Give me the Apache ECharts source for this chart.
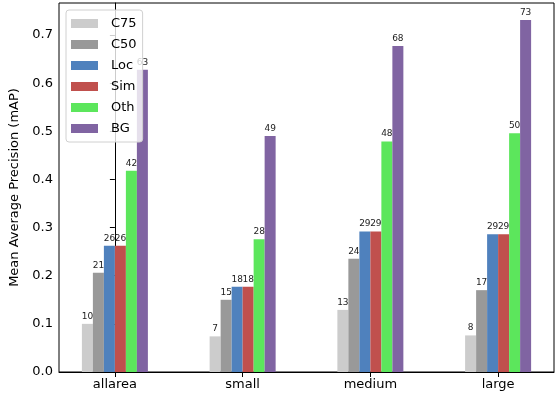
<!DOCTYPE html>
<html><head><meta charset="utf-8">
<script src="https://cdn.jsdelivr.net/npm/echarts@6/dist/echarts.min.js"></script>
<style>html,body{margin:0;padding:0;background:#fff}#c{width:559px;height:397px}</style>
</head><body><div id="c"></div>
<script>
const categories = ['allarea', 'small', 'medium', 'large'];
const seriesNames = ['C75', 'C50', 'Loc', 'Sim', 'Oth', 'BG'];
const C75 = [0.100, 0.074, 0.129, 0.076];
const C50 = [0.206, 0.150, 0.235, 0.170];
const Loc = [0.262, 0.177, 0.292, 0.286];
const Sim = [0.262, 0.177, 0.292, 0.286];
const Oth = [0.418, 0.276, 0.479, 0.496];
const BG  = [0.628, 0.490, 0.677, 0.731];
const yTicks = [0, 0.1, 0.2, 0.3, 0.4, 0.5, 0.6, 0.7];
const colors = ['#cccccc', '#999999', '#4f81bd', '#c0504d', '#5ce65c', '#8064a2'];
const allData = [C75, C50, Loc, Sim, Oth, BG];
const catIdx = categories.map((c, i) => i);
const font = 'DejaVu Sans';

const chart = echarts.init(document.getElementById('c'), null, {renderer: 'canvas'});
chart.setOption({
  animation: false,
  backgroundColor: '#fff',
  textStyle: {fontFamily: font},
  grid: {left: 58, right: 5, top: 3, bottom: 25, show: true, borderColor: '#000', borderWidth: 1, backgroundColor: 'transparent'},
  legend: {
    orient: 'vertical', left: 66, top: 10, padding: [7, 6, 7, 5],
    backgroundColor: 'rgba(255,255,255,0.8)', borderColor: '#d0d0d0', borderWidth: 1, borderRadius: 3,
    itemWidth: 27, itemHeight: 9, itemGap: 8,
    textStyle: {fontFamily: font, fontSize: 13, color: '#000', padding: [0, 0, 0, 8]},
    icon: 'rect',
    data: seriesNames
  },
  xAxis: {
    type: 'value', min: -0.4375, max: 3.4375,
    splitLine: {show: false},
    axisLine: {show: true, lineStyle: {color: '#000'}},
    axisTick: {show: true, customValues: catIdx, length: 5, lineStyle: {color: '#000'}},
    axisLabel: {customValues: catIdx, formatter: v => categories[Math.round(v)], color: '#000', fontSize: 13, fontFamily: font, margin: 6}
  },
  yAxis: {
    type: 'value', min: 0, max: 0.7665,
    name: 'Mean Average Precision (mAP)', nameLocation: 'middle', nameGap: 38,
    nameTextStyle: {color: '#000', fontSize: 13, fontFamily: font},
    splitLine: {show: false},
    axisLine: {show: true, lineStyle: {color: '#000'}},
    axisTick: {show: true, customValues: yTicks, length: 5, lineStyle: {color: '#000'}},
    axisLabel: {customValues: yTicks, formatter: v => v.toFixed(1), color: '#000', fontSize: 13, fontFamily: font, margin: 6}
  },
  series: seriesNames.map((name, s) => ({
    name, type: 'bar', barWidth: 11, barGap: '0%',
    itemStyle: {color: colors[s]},
    label: {show: true, position: 'top', distance: 3, fontSize: 9, color: '#222', fontFamily: font,
      formatter: p => String(Math.round(p.value[1] * 100))},
    data: allData[s].map((v, i) => [i, v])
  }))
});
</script></body></html>
